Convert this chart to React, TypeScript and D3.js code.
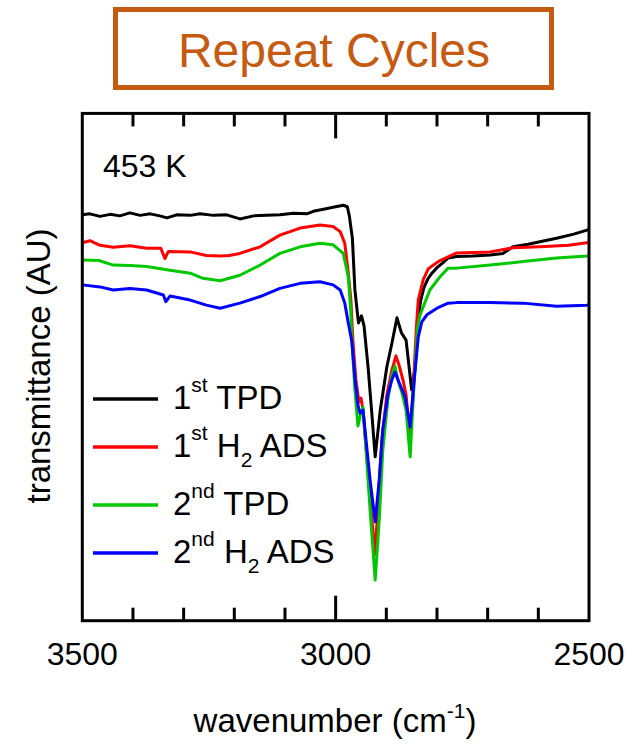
import React from "react";
import * as d3 from "d3";

// ---------- data (wavenumber cm^-1, transmittance AU) ----------
const firstTPD: [number, number][] = [
  [3500, 80.0], [3485, 80.2], [3465, 79.7], [3445, 80.1], [3426, 79.8], [3406, 80.4],
  [3386, 79.9], [3366, 80.2], [3347, 79.8], [3333, 79.4], [3314, 80.0], [3287, 79.9],
  [3268, 80.2], [3241, 79.9], [3215, 80.0], [3189, 79.2], [3162, 79.8], [3136, 79.9],
  [3110, 80.0], [3083, 80.3], [3057, 80.2], [3044, 80.7], [3024, 81.1], [3005, 81.5],
  [2985, 81.9], [2977, 81.6], [2973, 79.8], [2967, 75.4], [2962, 65.2], [2955, 58.7],
  [2949, 60.1], [2944, 58.1], [2936, 50.0], [2928, 40.1], [2922, 32.3], [2912, 41.5],
  [2899, 50.0], [2889, 54.7], [2879, 59.7], [2870, 56.7], [2861, 55.3], [2850, 45.5],
  [2843, 50.0], [2837, 59.9], [2832, 63.2], [2826, 65.6], [2818, 67.4], [2810, 68.5],
  [2800, 69.6], [2788, 70.6], [2778, 71.5], [2761, 71.8], [2730, 71.9], [2695, 72.1],
  [2670, 72.4], [2650, 73.7], [2620, 74.2], [2597, 74.7], [2564, 75.4], [2530, 76.2],
  [2504, 77.0], [2500, 77.2],
];

const firstH2ADS: [number, number][] = [
  [3500, 74.5], [3485, 74.9], [3465, 74.0], [3439, 73.6], [3406, 73.9], [3373, 73.4],
  [3345, 73.4], [3337, 71.4], [3330, 72.8], [3287, 72.7], [3255, 72.0], [3228, 71.9],
  [3210, 72.0], [3189, 72.4], [3149, 73.7], [3110, 76.0], [3070, 77.4], [3031, 78.0],
  [3005, 77.7], [2991, 76.7], [2982, 74.4], [2975, 68.5], [2970, 63.4], [2966, 55.3],
  [2960, 47.4], [2954, 43.1], [2950, 43.9], [2946, 41.5], [2938, 31.7], [2930, 21.8],
  [2922, 13.0], [2916, 23.8], [2909, 35.6], [2899, 44.5], [2889, 49.4], [2881, 52.2],
  [2875, 50.4], [2867, 47.4], [2861, 44.5], [2853, 35.6], [2847, 45.5], [2841, 57.3],
  [2837, 63.2], [2827, 67.3], [2817, 69.4], [2800, 70.6], [2794, 71.0], [2761, 72.5],
  [2695, 72.7], [2650, 73.5], [2597, 73.7], [2540, 74.0], [2504, 74.5], [2500, 74.5],
];

const secondTPD: [number, number][] = [
  [3500, 71.1], [3467, 71.0], [3439, 70.1], [3406, 70.0], [3373, 69.8], [3327, 69.1],
  [3287, 68.5], [3262, 67.5], [3228, 67.0], [3189, 68.1], [3149, 70.1], [3110, 72.4],
  [3070, 73.7], [3031, 74.4], [3005, 74.1], [2985, 72.4], [2975, 67.8], [2970, 60.7],
  [2968, 55.3], [2962, 45.5], [2956, 38.4], [2950, 41.1], [2946, 42.1], [2940, 33.6],
  [2932, 21.8], [2922, 8.0], [2914, 19.8], [2907, 33.6], [2897, 43.5], [2889, 48.4],
  [2883, 50.2], [2877, 47.4], [2869, 44.9], [2861, 41.5], [2853, 32.3], [2847, 43.5],
  [2839, 57.3], [2834, 60.1], [2814, 65.2], [2794, 67.8], [2778, 69.5], [2761, 69.5],
  [2695, 70.1], [2630, 70.8], [2564, 71.5], [2504, 71.9], [2500, 72.0],
];

const secondH2ADS: [number, number][] = [
  [3500, 66.2], [3465, 65.8], [3439, 65.2], [3406, 65.5], [3373, 65.2], [3340, 64.2],
  [3335, 62.9], [3327, 64.0], [3287, 63.2], [3255, 62.2], [3228, 61.6], [3189, 62.6],
  [3149, 63.9], [3110, 65.5], [3070, 66.5], [3031, 66.8], [3005, 66.2], [2991, 65.2],
  [2982, 62.6], [2975, 58.7], [2968, 55.0], [2962, 47.8], [2956, 42.5], [2952, 40.9],
  [2946, 41.5], [2940, 35.6], [2932, 27.7], [2922, 19.5], [2914, 27.7], [2907, 37.6],
  [2897, 44.5], [2889, 47.5], [2883, 49.0], [2873, 46.5], [2863, 44.1], [2853, 38.2],
  [2845, 47.4], [2837, 55.9], [2830, 58.9], [2820, 60.3], [2800, 61.6], [2778, 62.6],
  [2761, 62.7], [2695, 62.7], [2630, 62.6], [2564, 62.0], [2504, 62.2], [2500, 62.3],
];

const seriesColors = ["#000000", "#ff0000", "#00c800", "#0000ff"];
const legendMain = ["1", "1", "2", "2"];
const legendSup = ["st", "st", "nd", "nd"];
const legendRest = [" TPD", " H", " TPD", " H"];
const legendHasH2 = [false, true, false, true];
const xTickLabels = [3500, 3000, 2500];
const xMinorTicks = [3400, 3300, 3200, 3100, 2900, 2800, 2700, 2600];

const FONT = "'Liberation Sans', Arial, Helvetica, sans-serif";
const TITLE_COLOR = "#c55a11";

export default function App() {
  const left = 82.3, right = 589, top = 113.4, bottom = 620.7;
  const x = d3.scaleLinear().domain([3500, 2500]).range([left, right]);
  const y = d3.scaleLinear().domain([0, 100]).range([bottom, top]);
  const line = d3
    .line<[number, number]>()
    .x((d) => x(d[0]))
    .y((d) => y(d[1]));
  const allSeries = [firstTPD, firstH2ADS, secondTPD, secondH2ADS];
  const legendY = [399, 447, 505, 553];

  return (
    <svg width={627} height={746} style={{ display: "block", position: "absolute", left: 0, top: 0 }}>
      <rect x={0} y={0} width={627} height={746} fill="#fff" />
      {/* title box */}
      <rect x={115.5} y={9.5} width={436} height={78} fill="none" stroke={TITLE_COLOR} strokeWidth={5} />
      <text x={334} y={67} textAnchor="middle" fontFamily={FONT} fontSize={48} fill={TITLE_COLOR}>
        Repeat Cycles
      </text>

      <defs>
        <clipPath id="plotclip">
          <rect x={left} y={top} width={right - left} height={bottom - top} />
        </clipPath>
      </defs>

      {/* data lines */}
      <g clipPath="url(#plotclip)">
        {allSeries.map((s, i) => (
          <path
            key={i}
            d={line(s) || ""}
            fill="none"
            stroke={seriesColors[i]}
            strokeWidth={3}
            strokeLinejoin="round"
            strokeLinecap="round"
          />
        ))}
      </g>

      {/* ticks */}
      {xMinorTicks.map((t) => (
        <g key={t}>
          <line x1={x(t)} x2={x(t)} y1={bottom} y2={bottom - 13} stroke="#000" strokeWidth={3} />
          <line x1={x(t)} x2={x(t)} y1={top} y2={top + 13} stroke="#000" strokeWidth={3} />
        </g>
      ))}
      <line x1={x(3000)} x2={x(3000)} y1={bottom} y2={bottom - 25} stroke="#000" strokeWidth={3} />
      <line x1={x(3000)} x2={x(3000)} y1={top} y2={top + 25} stroke="#000" strokeWidth={3} />

      {/* frame */}
      <rect x={left} y={top} width={right - left} height={bottom - top} fill="none" stroke="#000" strokeWidth={3} />

      {/* tick labels */}
      {xTickLabels.map((t) => (
        <text key={t} x={x(t)} y={665} textAnchor="middle" fontFamily={FONT} fontSize={32} fill="#000">
          {t}
        </text>
      ))}

      {/* axis titles */}
      <text x={335} y={732} textAnchor="middle" fontFamily={FONT} fontSize={33} fill="#000">
        wavenumber (cm<tspan fontSize={21} dy={-14}>-1</tspan>
        <tspan dy={14}>)</tspan>
      </text>
      <text
        transform="translate(50,366) rotate(-90)"
        textAnchor="middle"
        fontFamily={FONT}
        fontSize={33}
        fill="#000"
      >
        transmittance (AU)
      </text>

      {/* annotation */}
      <text x={103} y={177} fontFamily={FONT} fontSize={32} fill="#000">
        453 K
      </text>

      {/* legend */}
      {seriesColors.map((c, i) => (
        <g key={i}>
          <line x1={93} x2={158} y1={legendY[i]} y2={legendY[i]} stroke={c} strokeWidth={3.5} />
          <text x={173} y={legendY[i] + 10} fontFamily={FONT} fontSize={33} fill="#000">
            {legendMain[i]}
            <tspan fontSize={21} dy={-17}>{legendSup[i]}</tspan>
            <tspan dy={17}>{legendRest[i]}</tspan>
            {legendHasH2[i] ? (
              <>
                <tspan fontSize={21} dy={10}>2</tspan>
                <tspan dy={-10}> ADS</tspan>
              </>
            ) : null}
          </text>
        </g>
      ))}
    </svg>
  );
}
